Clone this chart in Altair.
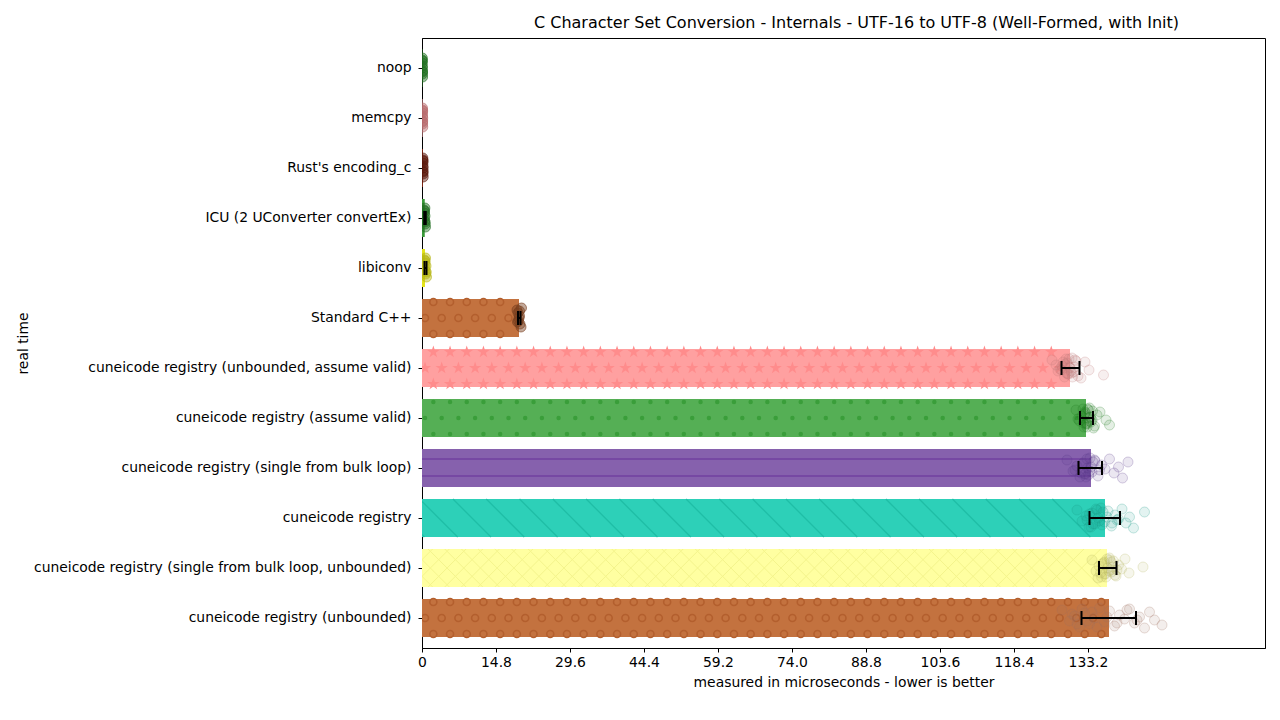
import altair as alt
import pandas as pd

# Benchmarks, top to bottom
names = [
    "noop",
    "memcpy",
    "Rust's encoding_c",
    "ICU (2 UConverter convertEx)",
    "libiconv",
    "Standard C++",
    "cuneicode registry (unbounded, assume valid)",
    "cuneicode registry (assume valid)",
    "cuneicode registry (single from bulk loop)",
    "cuneicode registry",
    "cuneicode registry (single from bulk loop, unbounded)",
    "cuneicode registry (unbounded)",
]

# Mean real time per benchmark (microseconds)
means = [0.08, 0.12, 0.2, 0.55, 0.6, 19.4, 129.6, 132.8, 133.8, 136.6, 137.0, 137.4]
# Error bar extents
err_lo = [None, None, None, 0.45, 0.5, 19.2, 127.9, 131.6, 131.3, 133.5, 135.4, 131.9]
err_hi = [None, None, None, 0.75, 0.9, 19.7, 131.5, 134.2, 136.0, 139.6, 138.9, 142.8]

bar_colors = ["#2e8f2e", "#d48a8c", "#7a2412", "#3a9a3a", "#e4e41c", "#c3723f",
              "#ffa0a0", "#55af55", "#8661ad", "#2dd0b8", "#ffffa1", "#c3723f"]
pt_colors = ["#1f6f1f", "#b86a6c", "#5a1608", "#236f23", "#b5b512", "#7a4020",
             "#c07878", "#1f7a1f", "#5a3a8a", "#1a9a88", "#b8b860", "#a07060"]

# Individual run samples per benchmark
samples = [
    [0.05, 0.1, 0.08, 0.12, 0.06, 0.1, 0.09, 0.07, 0.11, 0.08],
    [0.1, 0.14, 0.12, 0.16, 0.11, 0.13, 0.15, 0.1, 0.12, 0.14],
    [0.18, 0.22, 0.2, 0.24, 0.19, 0.21, 0.23, 0.17, 0.2, 0.22],
    [0.4, 0.55, 0.6, 0.7, 0.5, 0.65, 0.45, 0.58, 0.62, 0.52],
    [0.5, 0.65, 0.8, 0.9, 0.6, 0.75, 0.55, 0.7, 0.85, 0.62],
    [19.0, 19.3, 19.5, 19.8, 19.2, 19.6, 19.4, 19.9, 19.1, 19.5],
    [126.0, 127.2, 128.0, 128.5, 129.0, 129.3, 129.6, 130.0, 130.3, 130.8,
     131.2, 126.8, 127.6, 128.8, 129.9, 130.5, 131.8, 132.6, 133.4, 136.3,
     128.6, 129.1, 129.4, 129.8, 128.2, 130.1, 129.5, 128.9, 130.6, 127.9],
    [130.8, 131.5, 132.0, 132.4, 132.7, 133.0, 133.2, 133.5, 133.8, 134.1,
     134.5, 135.0, 131.2, 132.2, 132.9, 133.6, 134.3, 135.6, 136.8, 137.5,
     132.5, 132.8, 133.1, 133.4, 132.6, 133.0, 133.7, 132.3, 133.3, 134.0],
    [129.0, 130.2, 131.0, 131.6, 132.2, 132.7, 133.1, 133.6, 134.0, 134.6,
     135.2, 135.9, 136.6, 137.5, 138.4, 139.3, 140.1, 141.2, 130.6, 133.3,
     132.0, 132.5, 133.0, 133.5, 134.2, 132.8, 133.8, 131.8, 134.5, 135.5],
    [131.0, 132.0, 132.8, 133.4, 134.0, 134.6, 135.2, 135.8, 136.5, 137.2,
     137.9, 138.6, 139.3, 140.0, 140.8, 141.5, 142.3, 144.5, 133.0, 136.0,
     133.5, 134.2, 134.8, 135.5, 136.2, 133.8, 137.0, 138.0, 135.0, 139.0],
    [134.0, 134.8, 135.4, 135.9, 136.3, 136.7, 137.1, 137.5, 137.9, 138.3,
     138.8, 139.3, 139.9, 140.6, 141.4, 144.2, 135.2, 136.5, 137.8, 138.6,
     136.0, 136.5, 137.0, 137.4, 137.8, 136.8, 138.2, 135.7, 137.6, 139.0],
    [128.0, 129.5, 130.5, 131.5, 132.5, 133.5, 134.5, 135.5, 136.5, 137.5,
     138.5, 139.5, 140.5, 141.5, 142.5, 143.5, 144.5, 145.5, 146.5, 148.0,
     130.0, 131.0, 132.0, 133.0, 134.0, 135.0, 137.0, 139.0, 141.0, 143.0],
]
# Vertical spread (pixels) of the sample dots
jitter = [-8, 3, -2, 9, -5, 6, 0, -10, 4, -7, 8, -3, 1, -9, 5, -1, 10, -6, 2, 7,
          -4, 6, -9, 3, -6, 9, -1, 5, -8, 2]

x_ticks = [0, 14.8, 29.6, 44.4, 59.2, 74.0, 88.8, 103.6, 118.4, 133.2]
X_MAX = 168.6
PLOT_W, PLOT_H = 843, 610
UNIT = X_MAX / PLOT_W          # data units per pixel
HALF_BAND = 19                 # half of the bar thickness in pixels

# Hatch styles per bar: (kind, colour, horizontal spacing in px)
hatches = {
    "Standard C++": ("ring", "#b35f2e", 16.7),
    "cuneicode registry (unbounded)": ("ring", "#b35f2e", 16.7),
    "cuneicode registry (unbounded, assume valid)": ("star", "#ff8c8c", 16.7),
    "cuneicode registry (assume valid)": ("dot", "#3a9e3a", 16.7),
    "cuneicode registry (single from bulk loop)": ("hline", "#7040a0", 0),
    "cuneicode registry": ("diag", "#1fbea6", 33.3),
    "cuneicode registry (single from bulk loop, unbounded)": ("cross", "#f4f48c", 16.7),
}

bars = pd.DataFrame({"name": names, "mean": means, "lo": err_lo, "hi": err_hi})
errs = bars.dropna()
pts = pd.DataFrame(
    [
        {"name": n, "t": v, "jit": jitter[i], "narrow": k < 6}
        for k, (n, vals) in enumerate(zip(names, samples))
        for i, v in enumerate(vals)
    ]
)

# Hatch glyph positions, laid out on a pixel lattice and kept inside each bar
hatch_rows = []
for n, m in zip(names, means):
    if n not in hatches:
        continue
    kind, col, sp = hatches[n]
    if kind in ("ring", "star", "dot"):
        for row, shift in ((-16, 0.5), (0, 0.0), (16, 0.5)):
            k = 0
            while True:
                px = 3 + (k + shift) * sp
                x = px * UNIT
                if x > m - 4 * UNIT:
                    break
                hatch_rows.append({"name": n, "kind": kind, "t": x, "row": row})
                k += 1
    elif kind in ("diag", "cross"):
        k = -1
        while True:
            px = (k + 0.5) * sp
            x = px * UNIT
            if x > m - HALF_BAND * UNIT:
                break
            hatch_rows.append({"name": n, "kind": kind, "t": x, "row": 0})
            k += 1
hatch_df = pd.DataFrame(hatch_rows)
hline_df = pd.DataFrame(
    [{"name": n, "t": m, "row": r} for n, m in zip(names, means)
     if hatches.get(n, ("",))[0] == "hline" for r in (-9, 8)]
)

FONT = "DejaVu Sans"
y_scale = alt.Scale(domain=names, paddingInner=0.24, paddingOuter=0.22)
y_plain = alt.Y("name:N", sort=names, scale=y_scale)
y_enc = alt.Y(
    "name:N",
    sort=names,
    scale=y_scale,
    axis=alt.Axis(
        title="real time",
        titleFontWeight="normal",
        titleFontSize=13.9,
        titleX=-399,
        titleY=305,
        titleAngle=-90,
        titleAlign="center",
        titleBaseline="middle",
        labelFontSize=13.9,
        labelColor="black",
        labelPadding=7,
        labelLimit=0,
        tickColor="black",
        tickSize=4,
        domainColor="black",
    ),
)
x_scale = alt.Scale(domain=[0, X_MAX], nice=False, zero=True)
x_axis = alt.Axis(
    title="measured in microseconds - lower is better",
    titleFontWeight="normal",
    titleFontSize=13.9,
    titlePadding=7,
    values=x_ticks,
    labelExpr="datum.value == 0 ? '0' : format(datum.value, '.1f')",
    labelFontSize=13.9,
    labelColor="black",
    labelPadding=3,
    labelFlush=False,
    tickColor="black",
    tickSize=4,
    domainColor="black",
    grid=False,
)
y_off = alt.YOffset("off:Q", scale=None)

bar_layer = alt.Chart(bars).mark_bar(opacity=1).encode(
    y=y_enc,
    x=alt.X("mean:Q", scale=x_scale, axis=x_axis),
    color=alt.Color("name:N", scale=alt.Scale(domain=names, range=bar_colors), legend=None),
)

STAR = ("M0,-1L0.223,-0.307L0.951,-0.309L0.361,0.117L0.588,0.809L0,0.38"
        "L-0.588,0.809L-0.361,0.117L-0.951,-0.309L-0.223,-0.307Z")


def hatch_layer(kind, mark):
    return (
        alt.Chart(hatch_df)
        .transform_filter(alt.datum.kind == kind)
        .transform_calculate(off=f"datum.row + {HALF_BAND}")
        .mark_point(clip=True, **mark)
        .encode(y=y_plain, x=alt.X("t:Q", scale=x_scale), yOffset=y_off)
    )


ring_layer = hatch_layer("ring", dict(shape="circle", filled=False, size=49, strokeWidth=1.6, color="#b35f2e", opacity=1))
star_layer = hatch_layer("star", dict(shape=STAR, filled=True, size=170, color="#ff8c8c", opacity=1, strokeWidth=0))
dot_pat_layer = hatch_layer("dot", dict(shape="circle", filled=True, size=20, color="#3a9e3a", opacity=1, strokeWidth=0))
diag_layer = hatch_layer("diag", dict(shape="M-1,-1L1,1", filled=False, size=1444, strokeWidth=1.3, color="#1fbea6", opacity=1))
cross_layer = hatch_layer("cross", dict(shape="M-1,-1L1,1M-1,1L1,-1", filled=False, size=1444, strokeWidth=1.0, color="#f4f48c", opacity=1))

hline_layer = (
    alt.Chart(hline_df)
    .transform_calculate(off=f"datum.row + {HALF_BAND}", zero="0")
    .mark_rule(color="#7040a0", strokeWidth=1.5)
    .encode(y=y_plain, x=alt.X("zero:Q", scale=x_scale), x2="t:Q", yOffset=y_off)
)


def dots(narrow, fill_op, stroke_op):
    return (
        alt.Chart(pts)
        .transform_filter(alt.datum.narrow == narrow)
        .transform_calculate(off=f"datum.jit + {HALF_BAND}")
        .mark_circle(size=100, fillOpacity=fill_op, strokeOpacity=stroke_op, strokeWidth=1, clip=True)
        .encode(
            y=y_plain,
            x=alt.X("t:Q", scale=x_scale),
            yOffset=y_off,
            fill=alt.Fill("name:N", scale=alt.Scale(domain=names, range=pt_colors), legend=None),
            stroke=alt.Stroke("name:N", scale=alt.Scale(domain=names, range=pt_colors), legend=None),
        )
    )


err_line = alt.Chart(errs).mark_rule(color="black", strokeWidth=2).encode(
    y=y_plain, x=alt.X("lo:Q", scale=x_scale), x2="hi:Q"
)
cap_lo = alt.Chart(errs).mark_tick(color="black", thickness=2, size=14, orient="vertical", opacity=1).encode(
    y=y_plain, x=alt.X("lo:Q", scale=x_scale)
)
cap_hi = alt.Chart(errs).mark_tick(color="black", thickness=2, size=14, orient="vertical", opacity=1).encode(
    y=y_plain, x=alt.X("hi:Q", scale=x_scale)
)

chart = (
    alt.layer(
        bar_layer, ring_layer, star_layer, dot_pat_layer, diag_layer, cross_layer, hline_layer,
        dots(False, 0.12, 0.25), dots(True, 0.45, 0.6),
        err_line, cap_lo, cap_hi,
    )
    .resolve_scale(fill="independent", stroke="independent")
    .properties(
        width=PLOT_W,
        height=PLOT_H,
        title=alt.Title(
            "C Character Set Conversion - Internals - UTF-16 to UTF-8 (Well-Formed, with Init)",
            fontSize=16,
            fontWeight="normal",
            font=FONT,
            anchor="middle",
            offset=7,
            dx=13,
            color="black",
        ),
        autosize=alt.AutoSizeParams(type="none"),
        padding={"left": 422, "top": 38, "right": 15, "bottom": 72},
    )
    .configure(font=FONT, background="white")
    .configure_view(stroke="black", strokeWidth=1)
    .configure_axis(labelFont=FONT, titleFont=FONT, titleColor="black")
)

chart.save("out.html", embed_options={"renderer": "svg", "actions": False})
